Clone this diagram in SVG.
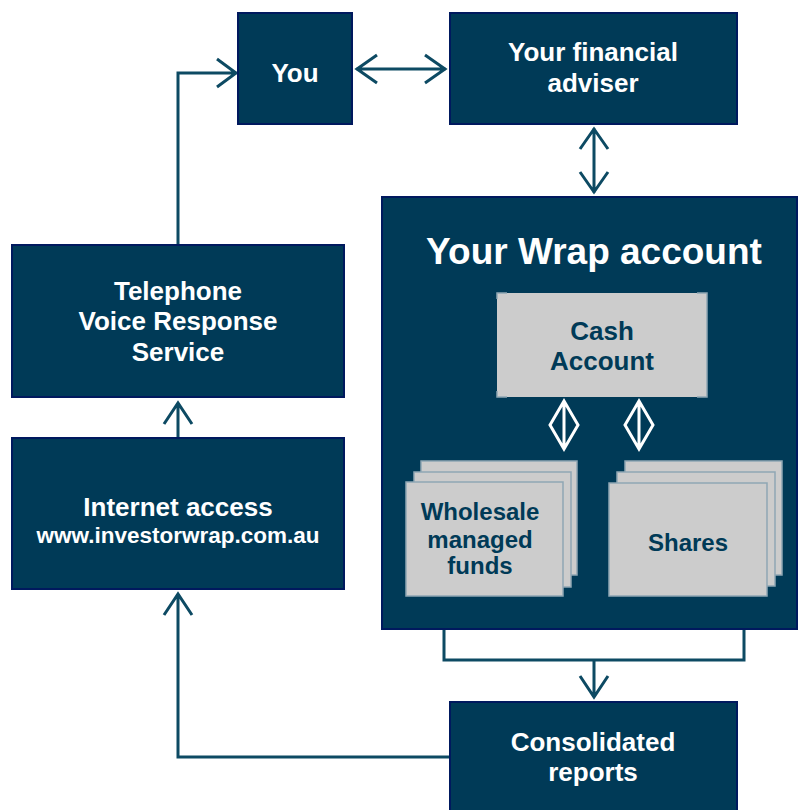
<svg xmlns="http://www.w3.org/2000/svg" width="800" height="810" viewBox="0 0 800 810">
<style>
.box{fill:#003a57;stroke:#00195e;stroke-width:2}
.t{font-family:"Liberation Sans",Arial,sans-serif;font-weight:bold;fill:#ffffff;text-anchor:middle;font-size:26px}
.d{font-family:"Liberation Sans",Arial,sans-serif;font-weight:bold;fill:#003a57;text-anchor:middle;font-size:24px}
.card{fill:#cccccc;stroke:#8fa6b4;stroke-width:1.5}
.ln{fill:none;stroke:#0d4a63;stroke-width:3;stroke-linejoin:miter}
.wl{fill:none;stroke:#ffffff;stroke-width:3}
</style>
<rect width="800" height="810" fill="#ffffff"/>
<g id="connectors">
<path class="ln" d="M356,69 H446 M377,55 L357,69 L377,83 M425,55 L445,69 L425,83"/>
<path class="ln" d="M594,128 V193 M580,149 L594,129 L608,149 M580,172 L594,192 L608,172"/>
<path class="ln" d="M178,245 V73 H237 M217,59 L236,73 L217,87"/>
<path class="ln" d="M178,438 V403 M164,424 L178,403 L192,424"/>
<path class="ln" d="M450,757 H178 V594 M164,615 L178,594 L192,615"/>
<path class="ln" d="M444,629 V660 H744 V629 M594,660 V697 M580,676 L594,697 L608,676"/>
</g>
<g id="you">
<rect class="box" x="238" y="13" width="114" height="111"/>
<text class="t" x="295" y="82" font-size="25">You</text>
</g>
<g id="adviser">
<rect class="box" x="450" y="13" width="287" height="111"/>
<text class="t" x="593" y="61">Your financial</text>
<text class="t" x="593" y="92">adviser</text>
</g>
<g id="wrap">
<rect class="box" x="382" y="197" width="415" height="432"/>
<text class="t" x="594" y="264" style="font-size:37px">Your Wrap account</text>
</g>
<g id="cash">
<rect x="497" y="293" width="210" height="104" fill="#cccccc"/>
<path d="M497,299 V293 H507 M697,293 H707 V397 H697 M507,397 H497 V391" fill="none" stroke="#8fa6b4" stroke-width="1.5"/>
<text class="d" x="602" y="340" style="font-size:26px">Cash</text>
<text class="d" x="602" y="370" style="font-size:26px">Account</text>
</g>
<g id="link-cash-wholesale">
<path class="wl" d="M564,401 L550,425 L564,449 L578,425 Z M564,401 V449"/>
</g>
<g id="link-cash-shares">
<path class="wl" d="M639,401 L625,425 L639,449 L653,425 Z M639,401 V449"/>
</g>
<g id="wholesale">
<rect class="card" x="421" y="461" width="156" height="114"/>
<rect class="card" x="414" y="472" width="157" height="115"/>
<rect class="card" x="406" y="482" width="157" height="114"/>
<text class="d" x="480" y="520">Wholesale</text>
<text class="d" x="480" y="548">managed</text>
<text class="d" x="480" y="574">funds</text>
</g>
<g id="shares">
<rect class="card" x="625" y="461" width="157" height="114"/>
<rect class="card" x="617" y="472" width="158" height="114"/>
<rect class="card" x="609" y="483" width="158" height="113"/>
<text class="d" x="688" y="551">Shares</text>
</g>
<g id="telephone">
<rect class="box" x="12" y="245" width="332" height="152"/>
<text class="t" x="178" y="300">Telephone</text>
<text class="t" x="178" y="330">Voice Response</text>
<text class="t" x="178" y="361">Service</text>
</g>
<g id="internet">
<rect class="box" x="12" y="438" width="332" height="151"/>
<text class="t" x="178" y="516">Internet access</text>
<text class="t" x="178" y="543" style="font-size:22.5px">www.investorwrap.com.au</text>
</g>
<g id="reports">
<rect class="box" x="450" y="702" width="287" height="110"/>
<text class="t" x="593" y="751">Consolidated</text>
<text class="t" x="593" y="781">reports</text>
</g>
</svg>
